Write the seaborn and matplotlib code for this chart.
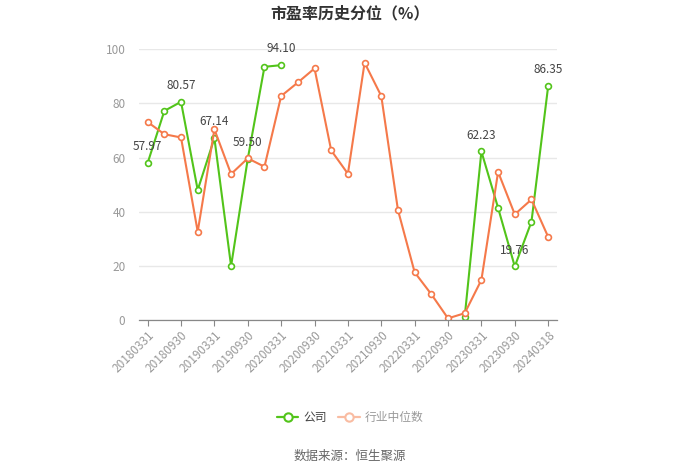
import numpy as np
import pandas as pd
import matplotlib
matplotlib.use("Agg")
import matplotlib.pyplot as plt
import seaborn as sns
from matplotlib.lines import Line2D

dates = ["20180331", "20180630", "20180930", "20181231",
         "20190331", "20190630", "20190930", "20191231",
         "20200331", "20200630", "20200930", "20201231",
         "20210331", "20210630", "20210930", "20211231",
         "20220331", "20220630", "20220930", "20221231",
         "20230331", "20230630", "20230930", "20231231",
         "20240318"]
company = [57.97, 77.2, 80.57, 48.0, 67.14, 19.9, 59.50, 93.5, 94.10,
           np.nan, np.nan, np.nan, np.nan, np.nan, np.nan, np.nan, np.nan, np.nan, np.nan,
           1.2, 62.23, 41.4, 19.76, 36.3, 86.35]
industry = [73.1, 68.6, 67.4, 32.6, 70.4, 53.9, 59.7, 56.6, 82.7,
            87.7, 92.9, 62.6, 54.0, 95.0, 82.7, 40.6, 17.6, 9.5, 0.6,
            2.5, 14.8, 54.7, 39.0, 44.5, 30.7]
labeled_idx = [0, 2, 4, 6, 8, 20, 22, 24]

sns.set_theme(style="white")
plt.rcParams['font.family'] = ['Noto Sans CJK SC', 'DejaVu Sans']

GREEN = "#52c41a"
ORANGE = "#f5794a"

df = pd.DataFrame({"idx": np.arange(len(dates)), "date": dates,
                   "company": company, "industry": industry})

fig = plt.figure(figsize=(7.0, 4.73), dpi=100)
ax = fig.add_axes([0.199, 0.3235, 0.596, 0.5725])

mk = dict(marker="o", markersize=4.2, markerfacecolor="white", markeredgewidth=1.2)

# company series has a gap: draw each contiguous run separately
valid = df["company"].notna()
runs = (valid != valid.shift()).cumsum()
for _, seg in df[valid].groupby(runs[valid]):
    sns.lineplot(data=seg, x="idx", y="company", ax=ax, color=GREEN, linewidth=1.5,
                 markeredgecolor=GREEN, **mk)
sns.lineplot(data=df, x="idx", y="industry", ax=ax, color=ORANGE, linewidth=1.5,
             markeredgecolor=ORANGE, **mk)

for i in labeled_idx:
    ax.annotate(f"{company[i]:.2f}", (i, company[i]), xytext=(0, 7),
                textcoords="offset points", ha="center", va="bottom",
                fontsize=8.5, color="#444444")

ax.set_xlim(-0.5, len(dates) - 0.5)
ax.set_ylim(0, 100)
ax.set_yticks([0, 20, 40, 60, 80, 100])
ax.set_xticks(np.arange(0, len(dates), 2))
ax.set_xticklabels([dates[i] for i in range(0, len(dates), 2)], rotation=45,
                   ha="right", rotation_mode="anchor", fontsize=8.5, color="#999999")
ax.tick_params(axis="y", labelsize=8.5, labelcolor="#999999", length=0, pad=10)
ax.tick_params(axis="x", length=4, color="#888888", width=0.8, bottom=True, pad=2)
ax.set_xlabel("")
ax.set_ylabel("")
ax.grid(axis="y", color="#e8e8e8", linewidth=1)
ax.set_axisbelow(True)
for s in ["left", "right", "top"]:
    ax.spines[s].set_visible(False)
ax.spines["bottom"].set_color("#888888")
ax.spines["bottom"].set_linewidth(0.9)

fig.text(0.5, 0.972, "市盈率历史分位（%）", ha="center", va="center",
         fontsize=11.5, fontweight="bold", color="#333333")

handles = [Line2D([0], [0], color=GREEN, marker="o", markersize=6, markerfacecolor="white",
                  markeredgecolor=GREEN, markeredgewidth=1.5, linewidth=1.6),
           Line2D([0], [0], color="#f9bca2", marker="o", markersize=6, markerfacecolor="white",
                  markeredgecolor="#f9bca2", markeredgewidth=1.5, linewidth=1.6)]
leg = fig.legend(handles, ["公司", "行业中位数"], loc="center", bbox_to_anchor=(0.5, 0.118),
                 ncol=2, frameon=False, fontsize=8.5, handlelength=1.8, columnspacing=1.0,
                 handletextpad=0.4)
leg.get_texts()[0].set_color("#444444")
leg.get_texts()[1].set_color("#999999")

fig.text(0.5, 0.036, "数据来源：恒生聚源", ha="center", va="center", fontsize=9, color="#666666")

fig.savefig("out.png", dpi=100)
